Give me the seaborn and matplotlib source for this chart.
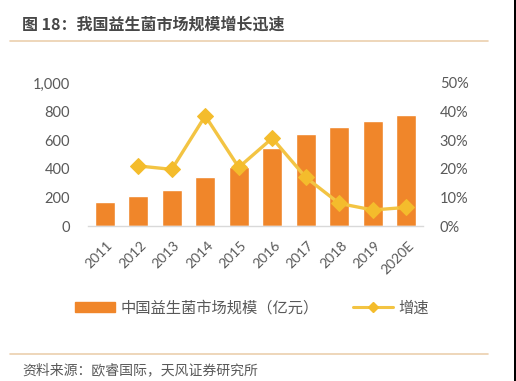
import numpy as np
import pandas as pd
import matplotlib
matplotlib.use("Agg")
import matplotlib.pyplot as plt
import seaborn as sns
from matplotlib.patches import Patch, Rectangle
from matplotlib.lines import Line2D
import matplotlib.transforms as mtransforms

sns.set_theme(style="white")
plt.rcParams['font.family'] = ['Noto Sans CJK SC', 'DejaVu Sans']

years = ["2011", "2012", "2013", "2014", "2015", "2016", "2017", "2018", "2019", "2020E"]
market_size = [170, 210, 252, 345, 415, 543, 643, 690, 732, 778]
growth = [np.nan, 0.21, 0.198, 0.385, 0.205, 0.307, 0.17, 0.079, 0.056, 0.065]
left_ticks = [0, 200, 400, 600, 800, 1000]
left_labels = ["0", "200", "400", "600", "800", "1,000"]
right_ticks = [0, 0.1, 0.2, 0.3, 0.4, 0.5]
right_labels = ["0%", "10%", "20%", "30%", "40%", "50%"]

title = "图 18：我国益生菌市场规模增长迅速"
bar_label = "中国益生菌市场规模（亿元）"
line_label = "增速"
source = "资料来源：欧睿国际，天风证券研究所"

bar_color = "#F0862A"
line_color = "#F3C443"
marker_color = "#F4BC2C"
tick_color = "#595959"
rule_color = "#EBCFAE"

W, H = 516, 381
fig = plt.figure(figsize=(W / 100, H / 100), dpi=100)
fig.patch.set_facecolor("white")

ax = fig.add_axes([88 / W, 1 - 226 / H, 335 / W, 143 / H])
df = pd.DataFrame({"year": years, "size": market_size, "pos": np.arange(len(years)), "growth": growth})

sns.barplot(data=df, x="year", y="size", color=bar_color, saturation=1, width=0.6, ax=ax)
ax.set_xlim(-0.5, len(years) - 0.5)
ax.set_ylim(0, 1000)
ax.set_yticks(left_ticks)
ax.set_yticklabels(left_labels)
ax.set_xlabel("")
ax.set_ylabel("")
for s in ["top", "right", "left"]:
    ax.spines[s].set_visible(False)
ax.spines["bottom"].set_color("#D9D9D9")
ax.spines["bottom"].set_linewidth(1.0)
ax.tick_params(axis="y", length=0, pad=13, labelsize=10.5, labelcolor=tick_color)
ax.tick_params(axis="x", length=0, pad=2, labelsize=10, labelcolor=tick_color)
for lab in ax.get_yticklabels():
    lab.set_fontfamily("Lato")
offset = mtransforms.ScaledTranslation(6 / 100, -15 / 100, fig.dpi_scale_trans)
for lab in ax.get_xticklabels():
    lab.set_rotation(45)
    lab.set_ha("right")
    lab.set_va("center")
    lab.set_rotation_mode("anchor")
    lab.set_fontfamily("Lato")
    lab.set_transform(lab.get_transform() + offset)

ax2 = ax.twinx()
sns.lineplot(data=df, x="pos", y="growth", color=line_color, lw=2.4, marker="D",
             markersize=8, markerfacecolor=marker_color, markeredgecolor=marker_color,
             ax=ax2, legend=False)
ax2.set_ylim(0, 0.5)
ax2.set_yticks(right_ticks)
ax2.set_yticklabels(right_labels)
ax2.set_ylabel("")
ax2.set_xlabel("")
for s in ["top", "right", "left", "bottom"]:
    ax2.spines[s].set_visible(False)
ax2.tick_params(axis="y", length=0, pad=12, labelsize=10.5, labelcolor=tick_color)
for lab in ax2.get_yticklabels():
    lab.set_fontfamily("Lato")
ax2.set_xlim(-0.5, len(years) - 0.5)

# Header and footer
fig.text(22 / W, 1 - 25 / H, title, fontsize=11.5, fontweight="bold", color="#474747",
         ha="left", va="center")
fig.add_artist(Line2D([10 / W, 488 / W], [1 - 41 / H, 1 - 41 / H], color=rule_color, lw=1.2))
fig.add_artist(Line2D([10 / W, 488 / W], [1 - 354 / H, 1 - 354 / H], color=rule_color, lw=1.2))
fig.text(22 / W, 1 - 370 / H, source, fontsize=10, color="#595959", ha="left", va="center")
fig.add_artist(Rectangle((514 / W, 0), 2 / W, 1, transform=fig.transFigure, color="black", lw=0))

handles = [Patch(facecolor=bar_color, edgecolor=bar_color),
           Line2D([], [], color=line_color, lw=2.2, marker="D", markersize=5,
                  markerfacecolor=marker_color, markeredgecolor=marker_color)]
leg = fig.legend(handles, [bar_label, line_label], loc="center", ncol=2,
                 bbox_to_anchor=(252 / W, 1 - 308 / H), frameon=False, fontsize=11,
                 handlelength=2.6, handleheight=0.6, handletextpad=0.35, columnspacing=2.3,
                 labelcolor="#595959")

fig.savefig("out.png", dpi=100, facecolor="white")
